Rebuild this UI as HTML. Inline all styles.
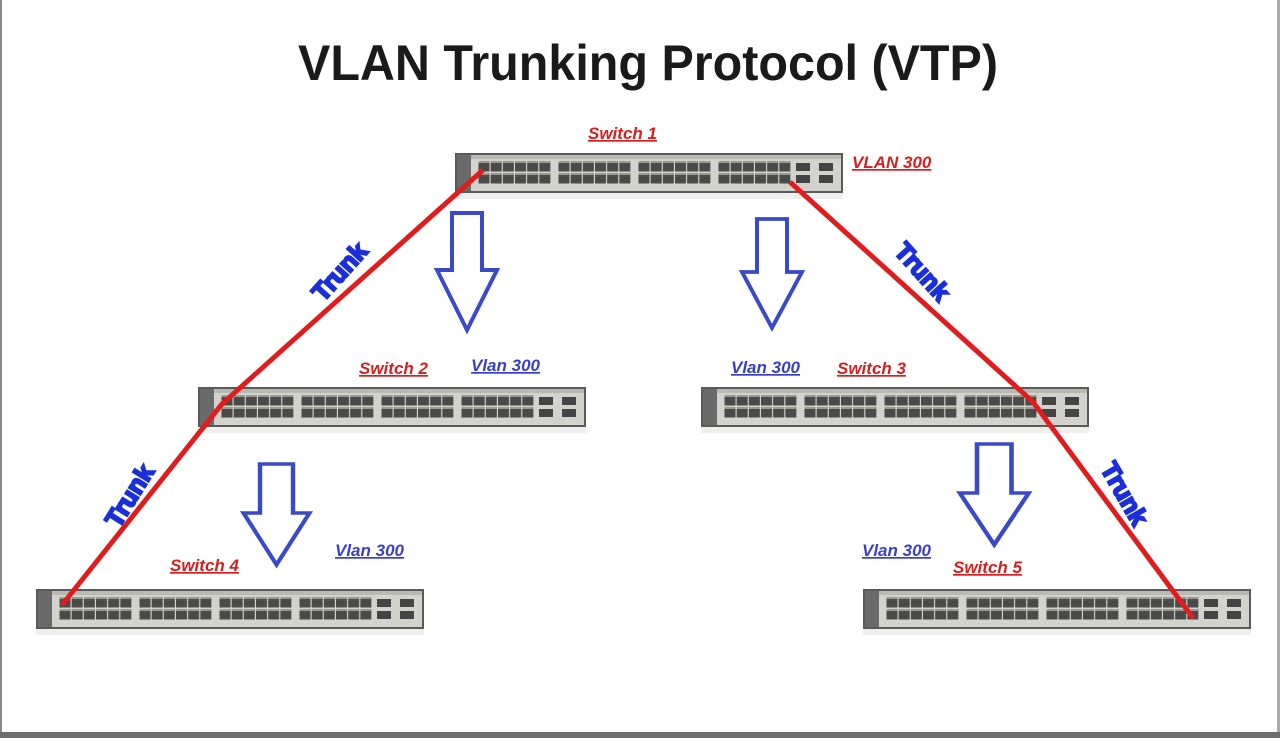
<!DOCTYPE html>
<html><head><meta charset="utf-8"><style>
html,body{margin:0;padding:0;background:#fff;}
svg{display:block;}
.r{fill:#d42020;font:italic bold 17px "Liberation Sans",sans-serif;text-decoration:underline;}
.b{fill:#3a3fc8;font:italic bold 17px "Liberation Sans",sans-serif;text-decoration:underline;}
.t{fill:#1a2fd8;font:bold 25px "Liberation Sans",sans-serif;stroke:#1a2fd8;stroke-width:2.2;}
</style></head><body>
<svg width="1280" height="738" viewBox="0 0 1280 738" xmlns="http://www.w3.org/2000/svg">
<defs>
<pattern id="pp" x="0" y="0" width="12.17" height="12" patternUnits="userSpaceOnUse">
<rect x="0.5" y="0" width="11" height="10.5" fill="#4a4a48"/>
<rect x="0.5" y="0" width="11" height="2" fill="#9a9a90"/>
</pattern>
<g id="sw">
<rect x="0" y="0" width="388" height="40" fill="#5a5a5a"/>
<rect x="2" y="2" width="384" height="36" fill="#d3d3cd"/>
<rect x="2" y="2" width="14" height="36" fill="#6a6a6a"/>
<rect x="16" y="2" width="370" height="4" fill="#b9b9b3"/>
<g transform="translate(23,8)"><rect width="73" height="24" fill="url(#pp)"/></g>
<g transform="translate(103,8)"><rect width="73" height="24" fill="url(#pp)"/></g>
<g transform="translate(183,8)"><rect width="73" height="24" fill="url(#pp)"/></g>
<g transform="translate(263,8)"><rect width="73" height="24" fill="url(#pp)"/></g>
<rect x="341" y="10" width="14" height="8" fill="#444"/><rect x="364" y="10" width="14" height="8" fill="#444"/>
<rect x="341" y="22" width="14" height="8" fill="#444"/><rect x="364" y="22" width="14" height="8" fill="#444"/>
<rect x="0" y="40" width="388" height="6" fill="#eeeeec"/>
</g>
<g id="ar"><path d="M0,0 h30 v57 h15 l-30,60 l-30,-60 h15 z" fill="none" stroke="#3a49c8" stroke-width="4" stroke-linejoin="miter"/></g>
</defs>
<rect x="0" y="0" width="2" height="738" fill="#888"/>
<rect x="1277" y="0" width="3" height="738" fill="#aaa"/>
<rect x="0" y="732" width="1280" height="6" fill="#6e6e6e"/>
<text x="298" y="80" textLength="700" lengthAdjust="spacingAndGlyphs" style="font:bold 50px 'Liberation Sans',sans-serif;fill:#1a1a1a">VLAN Trunking Protocol (VTP)</text>

<use href="#sw" x="455" y="153"/>
<use href="#sw" x="198" y="387"/>
<use href="#sw" x="701" y="387"/>
<use href="#sw" x="36" y="589"/>
<use href="#sw" x="863" y="589"/>

<polyline points="483,170 222,404 62,605" fill="none" stroke="#e01c1c" stroke-width="5"/>
<polyline points="790,182 1033,402 1193,618" fill="none" stroke="#e01c1c" stroke-width="5"/>

<use href="#ar" transform="translate(452,213)"/>
<use href="#ar" transform="translate(757,219) scale(1,0.93)"/>
<use href="#ar" transform="translate(260,464) scale(1.1,0.86)"/>
<use href="#ar" transform="translate(977,444) scale(1.15,0.86)"/>

<text class="t" transform="translate(340,272) rotate(-48)" text-anchor="middle" dy="8">Trunk</text>
<text class="t" transform="translate(922,272) rotate(48)" text-anchor="middle" dy="8">Trunk</text>
<text class="t" transform="translate(130,496) rotate(-58)" text-anchor="middle" dy="8">Trunk</text>
<text class="t" transform="translate(1124,494) rotate(60)" text-anchor="middle" dy="8">Trunk</text>

<text class="r" x="588" y="139">Switch 1</text>
<text class="r" x="852" y="168">VLAN 300</text>
<text class="r" x="359" y="374">Switch 2</text>
<text class="b" x="471" y="371">Vlan 300</text>
<text class="b" x="731" y="373">Vlan 300</text>
<text class="r" x="837" y="374">Switch 3</text>
<text class="r" x="170" y="571">Switch 4</text>
<text class="b" x="335" y="556">Vlan 300</text>
<text class="b" x="862" y="556">Vlan 300</text>
<text class="r" x="953" y="573">Switch 5</text>
</svg>
</body></html>
